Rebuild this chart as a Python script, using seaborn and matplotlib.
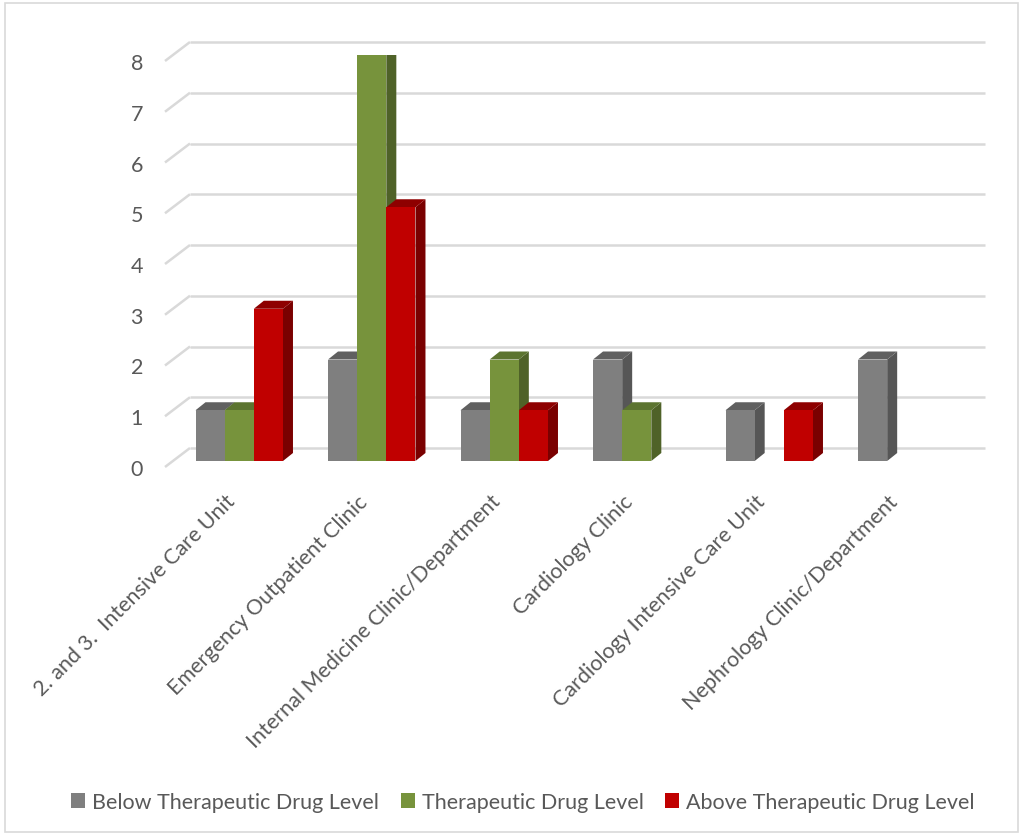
import numpy as np
import pandas as pd
import matplotlib
matplotlib.use("Agg")
import matplotlib.pyplot as plt
from matplotlib.patches import Polygon, Rectangle
from matplotlib.transforms import Affine2D
import seaborn as sns

# Daten
kliniken = [
    "2. and 3.  Intensive Care Unit",
    "Emergency Outpatient Clinic",
    "Internal Medicine Clinic/Department",
    "Cardiology Clinic",
    "Cardiology Intensive Care Unit",
    "Nephrology Clinic/Department",
]
stufen = ["Below Therapeutic Drug Level", "Therapeutic Drug Level", "Above Therapeutic Drug Level"]
unter = [1, 2, 1, 2, 1, 2]
therapeutisch = [1, 8, 2, 1, 0, 0]
ueber = [3, 5, 1, 0, 1, 0]
y_ticks = [0, 1, 2, 3, 4, 5, 6, 7, 8]

farben = ["#7F7F7F", "#77933C", "#C00000"]
farben_seite = ["#565656", "#4F6228", "#7A0000"]
farben_oben = ["#606060", "#5C7430", "#8E0000"]

tabelle = pd.DataFrame({
    "Klinik": kliniken * 3,
    "Stufe": [stufen[0]] * 6 + [stufen[1]] * 6 + [stufen[2]] * 6,
    "Anzahl": unter + therapeutisch + ueber,
})

sns.set_style("white")
plt.rcParams["font.family"] = ["Lato", "DejaVu Sans"]
textfarbe = "#595959"
schrift = 15.5

fig = plt.figure(figsize=(10.22, 8.37), dpi=100)
W, H = 1022, 837
ax = fig.add_axes([173 / W, (H - 462) / H, 795 / W, 406 / H])

sns.barplot(data=tabelle, x="Klinik", y="Anzahl", hue="Stufe", order=kliniken,
            hue_order=stufen, palette=farben, width=0.66, linewidth=0,
            saturation=1, ax=ax, zorder=3)

ax.set_xlim(-0.5, 5.5)
ax.set_ylim(0, 8)
ax.set_yticks(y_ticks)
ax.set_xlabel("")
ax.set_ylabel("")
for s in ax.spines.values():
    s.set_visible(False)
ax.grid(False)

# Pixel -> Datenkoordinaten
def px_zu_daten(dx, dy):
    p0 = ax.transData.transform((0, 0))
    p1 = ax.transData.inverted().transform((p0[0] + dx, p0[1] + dy))
    return p1[0], p1[1]

# Rueckwand-Gitterlinien und schraege Linien an der Seitenwand
gitterfarbe = "#D9D9D9"
bx, by = px_zu_daten(17, 13)
fx, fy = px_zu_daten(-8, -6)
for v in y_ticks:
    ax.plot([-0.5 + bx, 5.5 + bx], [v + by, v + by], color=gitterfarbe, lw=1.8,
            zorder=1, clip_on=False, solid_capstyle="butt")
    ax.plot([-0.5 + fx, -0.5 + bx], [v + fy, v + by], color=gitterfarbe, lw=1.8,
            zorder=1, clip_on=False, solid_capstyle="butt")

# 3D-Effekt: Seiten- und Deckflaechen der Balken
tx, ty = px_zu_daten(10, 8)
for i, cont in enumerate(ax.containers):
    for bar in cont:
        h = bar.get_height()
        if not h or np.isnan(h):
            continue
        x0 = bar.get_x()
        x1 = x0 + bar.get_width()
        seite = Polygon([(x1, 0), (x1 + tx, ty), (x1 + tx, h + ty), (x1, h)],
                        closed=True, facecolor=farben_seite[i], edgecolor="none", zorder=2.9)
        oben = Polygon([(x0, h), (x0 + tx, h + ty), (x1 + tx, h + ty), (x1, h)],
                       closed=True, facecolor=farben_oben[i], edgecolor="none", zorder=2.9)
        ax.add_patch(seite)
        ax.add_patch(oben)

# Achsenbeschriftungen
ax.tick_params(axis="y", length=0, pad=15.8, labelsize=schrift, labelcolor=textfarbe)
ax.tick_params(axis="x", length=0, pad=21.5, labelsize=schrift, labelcolor=textfarbe)
for lab in ax.get_yticklabels():
    lab.set_transform(lab.get_transform() + Affine2D().translate(-8, -6))
for lab in ax.get_xticklabels():
    lab.set_rotation(45)
    lab.set_ha("right")
    lab.set_va("top")

# Legende unten
sns.move_legend(ax, "center", bbox_to_anchor=(523 / W, 1 - 803 / H),
                bbox_transform=fig.transFigure, ncol=3, frameon=False, title=None,
                fontsize=schrift, handlelength=0.65, handleheight=0.65,
                handletextpad=0.33, columnspacing=1.0, labelcolor=textfarbe)

# Rahmen um das Diagramm
fig.patches.append(Rectangle((5 / W, 4 / H), 1013 / W, 829 / H, transform=fig.transFigure,
                             fill=False, edgecolor="#D9D9D9", lw=1.2))

fig.savefig("out.png", dpi=100, facecolor="white")
